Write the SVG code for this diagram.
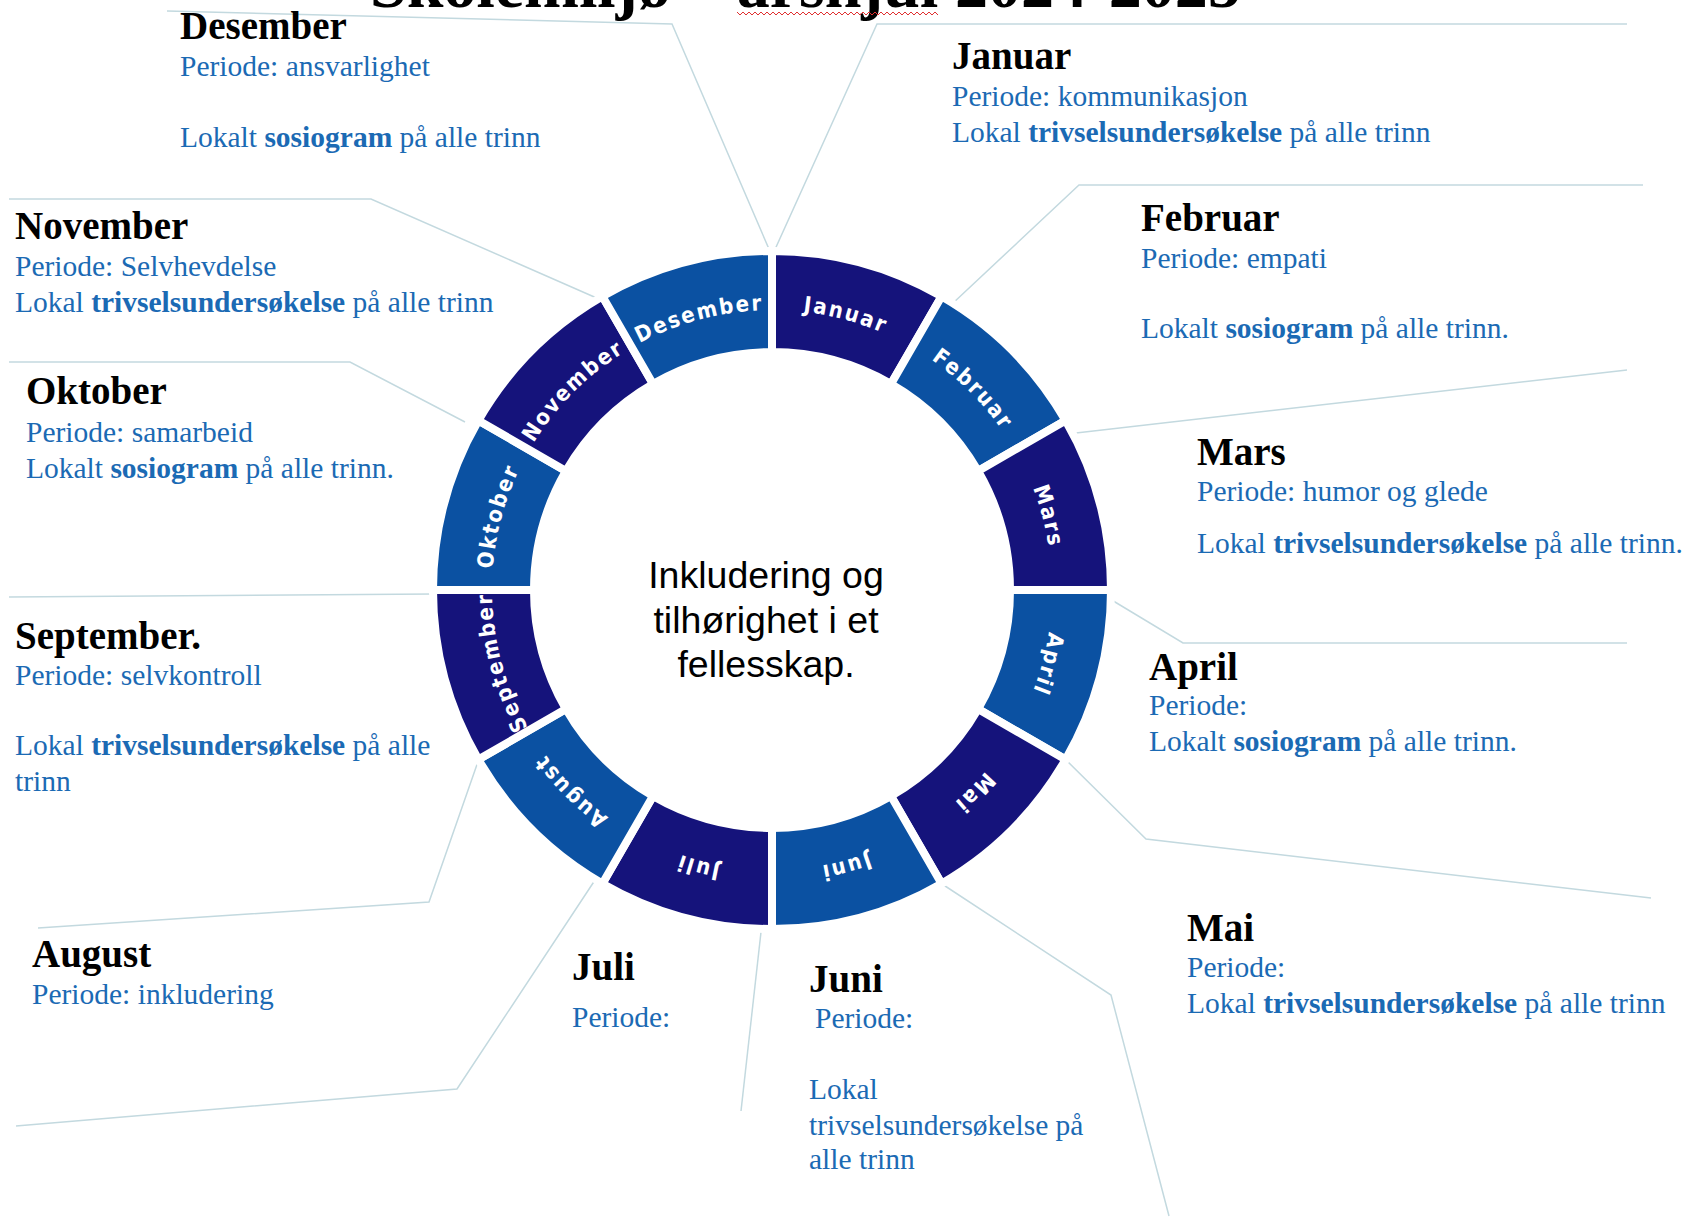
<svg xmlns="http://www.w3.org/2000/svg" width="1687" height="1217" viewBox="0 0 1687 1217">
<style>
.bg{fill:#fff}
.sd{fill:#15137b;stroke:#fff;stroke-width:8;stroke-linejoin:miter}
.sl{fill:#0b51a2;stroke:#fff;stroke-width:8;stroke-linejoin:miter}
.lab{font-family:"DejaVu Sans Condensed","Liberation Sans",sans-serif;font-size:22px;font-weight:bold;fill:#fff;letter-spacing:2px;text-anchor:middle}
.head{font-family:"Liberation Serif","Times New Roman",serif;font-weight:bold;font-size:39px;fill:#000}
.body{font-family:"Liberation Serif","Times New Roman",serif;font-size:29.5px;fill:#1b6ab4}
.b{font-weight:bold}
.conn{fill:none;stroke:#c3d9df;stroke-width:1.5}
.ctr{font-family:"Liberation Sans",Arial,sans-serif;font-size:37.5px;fill:#000;text-anchor:middle}
.title{font-family:"Liberation Serif","Times New Roman",serif;font-weight:bold;font-size:66px;fill:#000}
</style>
<defs>
<path id="ring" d="M772,310 A280,280 0 1 1 772,870 A280,280 0 1 1 772,310"/>
</defs>
<rect class="bg" x="0" y="0" width="1687" height="1217"/>

<g id="title">
<text class="title" x="370" y="7">Skolemiljø – årshjul 2024-2025</text>
<polyline points="737,12 740,15 743,12 746,15 749,12 752,15 755,12 758,15 761,12 764,15 767,12 770,15 773,12 776,15 779,12 782,15 785,12 788,15 791,12 794,15 797,12 800,15 803,12 806,15 809,12 812,15 815,12 818,15 821,12 824,15 827,12 830,15 833,12 836,15 839,12 842,15 845,12 848,15 851,12 854,15 857,12 860,15 863,12 866,15 869,12 872,15 875,12 878,15 881,12 884,15 887,12 890,15 893,12 896,15 899,12 902,15 905,12 908,15 911,12 914,15 917,12 920,15 923,12 926,15 929,12 932,15 935,12 938,15" fill="none" stroke="#e03030" stroke-width="1"/>
</g>

<g id="connectors">
<polyline class="conn" points="167,11 672,24 772,256"/>
<polyline class="conn" points="772,256 877,24 1627,24"/>
<polyline class="conn" points="952,304 1079,185 1643,185"/>
<polyline class="conn" points="1076,433 1627,370"/>
<polyline class="conn" points="1110,599 1183,643 1627,643"/>
<polyline class="conn" points="1063,757 1146,839 1651,898"/>
<polyline class="conn" points="939,882 1111,995 1169,1216"/>
<polyline class="conn" points="761,932 741,1111"/>
<polyline class="conn" points="599,874 457,1089 16,1126"/>
<polyline class="conn" points="481,753 429,902 38,928"/>
<polyline class="conn" points="9,597 434,594"/>
<polyline class="conn" points="465,422 350,362 9,362"/>
<polyline class="conn" points="608,303 371,199 9,199"/>
</g>

<g id="januar">
<path class="sd" d="M772,251 A339,339 0 0 1 941.5,296.4 L891,383.9 A238,238 0 0 0 772,352 Z"/>
<text class="lab"><textPath href="#ring" startOffset="4.1667%">Januar</textPath></text>
<text class="head" x="952" y="69">Januar</text>
<text class="body" x="952" y="106">Periode: kommunikasjon</text>
<text class="body" x="952" y="142">Lokal <tspan class="b">trivselsundersøkelse</tspan> på alle trinn</text>
</g>

<g id="februar">
<path class="sl" d="M941.5,296.4 A339,339 0 0 1 1065.6,420.5 L978.1,471 A238,238 0 0 0 891,383.9 Z"/>
<text class="lab"><textPath href="#ring" startOffset="12.5%">Februar</textPath></text>
<text class="head" x="1141" y="231">Februar</text>
<text class="body" x="1141" y="268">Periode: empati</text>
<text class="body" x="1141" y="338">Lokalt <tspan class="b">sosiogram</tspan> på alle trinn.</text>
</g>

<g id="mars">
<path class="sd" d="M1065.6,420.5 A339,339 0 0 1 1111,590 L1010,590 A238,238 0 0 0 978.1,471 Z"/>
<text class="lab"><textPath href="#ring" startOffset="20.833%">Mars</textPath></text>
<text class="head" x="1197" y="465">Mars</text>
<text class="body" x="1197" y="501">Periode: humor og glede</text>
<text class="body" x="1197" y="553">Lokal <tspan class="b">trivselsundersøkelse</tspan> på alle trinn.</text>
</g>

<g id="april">
<path class="sl" d="M1111,590 A339,339 0 0 1 1065.6,759.5 L978.1,709 A238,238 0 0 0 1010,590 Z"/>
<text class="lab"><textPath href="#ring" startOffset="29.167%">April</textPath></text>
<text class="head" x="1149" y="680">April</text>
<text class="body" x="1149" y="715">Periode:</text>
<text class="body" x="1149" y="751">Lokalt <tspan class="b">sosiogram</tspan> på alle trinn.</text>
</g>

<g id="mai">
<path class="sd" d="M1065.6,759.5 A339,339 0 0 1 941.5,883.6 L891,796.1 A238,238 0 0 0 978.1,709 Z"/>
<text class="lab"><textPath href="#ring" startOffset="37.5%">Mai</textPath></text>
<text class="head" x="1187" y="941">Mai</text>
<text class="body" x="1187" y="977">Periode:</text>
<text class="body" x="1187" y="1013">Lokal <tspan class="b">trivselsundersøkelse</tspan> på alle trinn</text>
</g>

<g id="juni">
<path class="sl" d="M941.5,883.6 A339,339 0 0 1 772,929 L772,828 A238,238 0 0 0 891,796.1 Z"/>
<text class="lab"><textPath href="#ring" startOffset="45.833%">Juni</textPath></text>
<text class="head" x="809" y="992">Juni</text>
<text class="body" x="815" y="1028">Periode:</text>
<text class="body" x="809" y="1099">Lokal</text>
<text class="body" x="809" y="1135">trivselsundersøkelse på</text>
<text class="body" x="809" y="1169">alle trinn</text>
</g>

<g id="juli">
<path class="sd" d="M772,929 A339,339 0 0 1 602.5,883.6 L653,796.1 A238,238 0 0 0 772,828 Z"/>
<text class="lab"><textPath href="#ring" startOffset="54.167%">Juli</textPath></text>
<text class="head" x="572" y="980">Juli</text>
<text class="body" x="572" y="1027">Periode:</text>
</g>

<g id="august">
<path class="sl" d="M602.5,883.6 A339,339 0 0 1 478.4,759.5 L565.9,709 A238,238 0 0 0 653,796.1 Z"/>
<text class="lab"><textPath href="#ring" startOffset="62.5%">August</textPath></text>
<text class="head" x="32" y="967">August</text>
<text class="body" x="32" y="1004">Periode: inkludering</text>
</g>

<g id="september">
<path class="sd" d="M478.4,759.5 A339,339 0 0 1 433,590 L534,590 A238,238 0 0 0 565.9,709 Z"/>
<text class="lab"><textPath href="#ring" startOffset="70.833%">September</textPath></text>
<text class="head" x="15" y="649">September.</text>
<text class="body" x="15" y="685">Periode: selvkontroll</text>
<text class="body" x="15" y="755">Lokal <tspan class="b">trivselsundersøkelse</tspan> på alle</text>
<text class="body" x="15" y="791">trinn</text>
</g>

<g id="oktober">
<path class="sl" d="M433,590 A339,339 0 0 1 478.4,420.5 L565.9,471 A238,238 0 0 0 534,590 Z"/>
<text class="lab"><textPath href="#ring" startOffset="79.167%">Oktober</textPath></text>
<text class="head" x="26" y="404">Oktober</text>
<text class="body" x="26" y="442">Periode: samarbeid</text>
<text class="body" x="26" y="478">Lokalt <tspan class="b">sosiogram</tspan> på alle trinn.</text>
</g>

<g id="november">
<path class="sd" d="M478.4,420.5 A339,339 0 0 1 602.5,296.4 L653,383.9 A238,238 0 0 0 565.9,471 Z"/>
<text class="lab"><textPath href="#ring" startOffset="87.5%">November</textPath></text>
<text class="head" x="15" y="239">November</text>
<text class="body" x="15" y="276">Periode: Selvhevdelse</text>
<text class="body" x="15" y="312">Lokal <tspan class="b">trivselsundersøkelse</tspan> på alle trinn</text>
</g>

<g id="desember">
<path class="sl" d="M602.5,296.4 A339,339 0 0 1 772,251 L772,352 A238,238 0 0 0 653,383.9 Z"/>
<text class="lab"><textPath href="#ring" startOffset="95.833%">Desember</textPath></text>
<text class="head" x="180" y="39">Desember</text>
<text class="body" x="180" y="76">Periode: ansvarlighet</text>
<text class="body" x="180" y="147">Lokalt <tspan class="b">sosiogram</tspan> på alle trinn</text>
</g>

<g id="centre">
<text class="ctr" x="766" y="588">Inkludering og</text>
<text class="ctr" x="766" y="633">tilhørighet i et</text>
<text class="ctr" x="766" y="677">fellesskap.</text>
</g>
</svg>
